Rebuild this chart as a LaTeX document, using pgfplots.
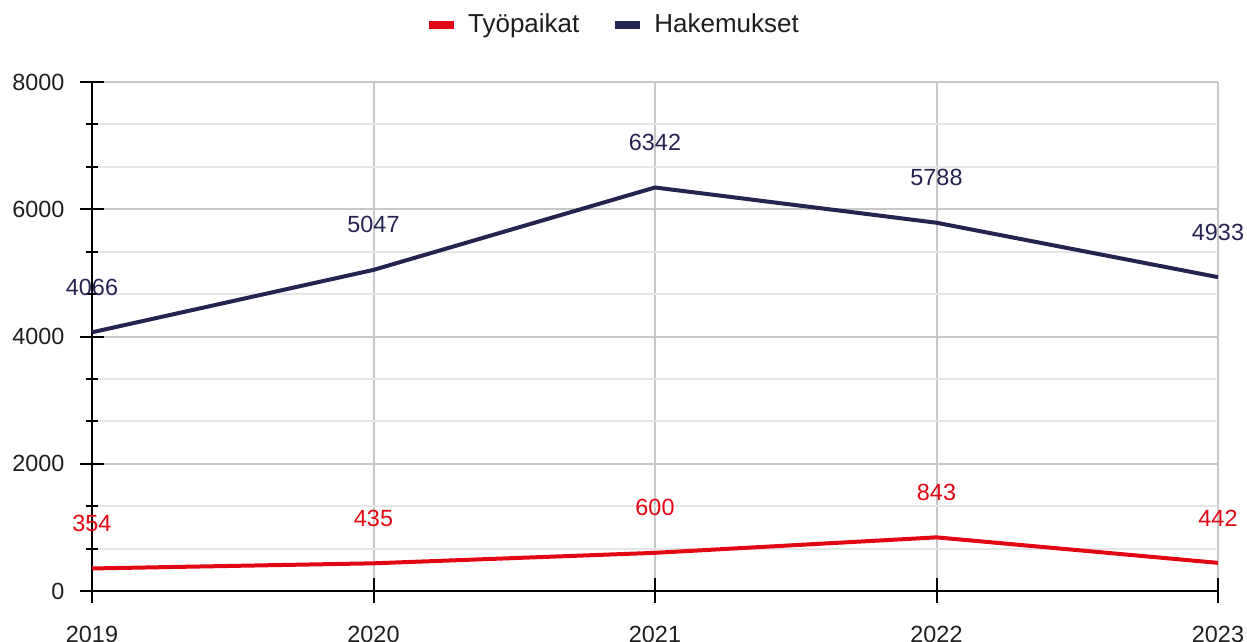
\documentclass[border=0pt]{standalone}
\usepackage{fontspec}
\setmainfont{Liberation Sans}
\usepackage{pgfplots}
\pgfplotsset{compat=1.18}
\definecolor{cRed}{HTML}{E30613}
\definecolor{cNavy}{HTML}{252350}
\definecolor{cGridMaj}{HTML}{C8C8C8}
\definecolor{cGridMin}{HTML}{E6E6E6}
\definecolor{cText}{HTML}{1E1E1E}
\begin{document}
\begin{tikzpicture}
\begin{axis}[
  at={(0,0)}, anchor=south west,
  scale only axis,
  width=563pt, height=254.5pt,
  xmin=2019, xmax=2023, ymin=0, ymax=8000,
  xtick={2019,2020,2021,2022,2023},
  ytick={0,2000,4000,6000,8000},
  minor y tick num=2,
  /pgf/number format/1000 sep={},
  /pgf/number format/assume math mode=true,
  tick label style={font=\fontsize{11.7}{13}\selectfont, text=cText},
  xticklabel style={yshift=-8pt},
  yticklabel style={xshift=-4pt},
  tick align=center,
  major tick length=12.5pt,
  minor tick length=6.5pt,
  tick style={black, line width=1pt},
  minor tick style={black, line width=1pt},
  grid=both,
  major grid style={cGridMaj, line width=1pt},
  minor grid style={cGridMin, line width=1pt},
  axis x line*=bottom,
  axis y line*=left,
  axis line style={black, line width=1pt},
  clip=false,
  legend style={at={(0.5,1)}, anchor=center, xshift=-20.5pt, yshift=28.5pt, draw=none, fill=none,
    legend columns=2, font=\fontsize{13}{15}\selectfont, text=cText,
    /tikz/every even column/.append style={column sep=14pt}},
  legend image code/.code={\path[draw=none, fill=none] (0pt,0pt) rectangle (17.5pt,0.1pt);\draw[#1, line width=4pt] (0pt,0pt) -- (12.5pt,0pt);},
  nodes near coords,
  every node near coord/.append style={font=\fontsize{11.7}{13}\selectfont, anchor=center, yshift=22.5pt},
  point meta=y,
  nodes near coords={\pgfmathprintnumber[fixed,precision=0,1000 sep={}]{\pgfplotspointmeta}},
]
\addplot[cRed, line width=2pt, mark=none, every node near coord/.append style={text=cRed}]
  coordinates {(2019,354) (2020,435) (2021,600) (2022,843) (2023,442)};
\addlegendentry{Työpaikat}
\addplot[cNavy, line width=2pt, mark=none, every node near coord/.append style={text=cNavy}]
  coordinates {(2019,4066) (2020,5047) (2021,6342) (2022,5788) (2023,4933)};
\addlegendentry{Hakemukset}
\end{axis}
\pgfresetboundingbox
\path[use as bounding box] (-46pt,-25.5pt) rectangle (577.5pt,295.5pt);
\end{tikzpicture}
\end{document}
